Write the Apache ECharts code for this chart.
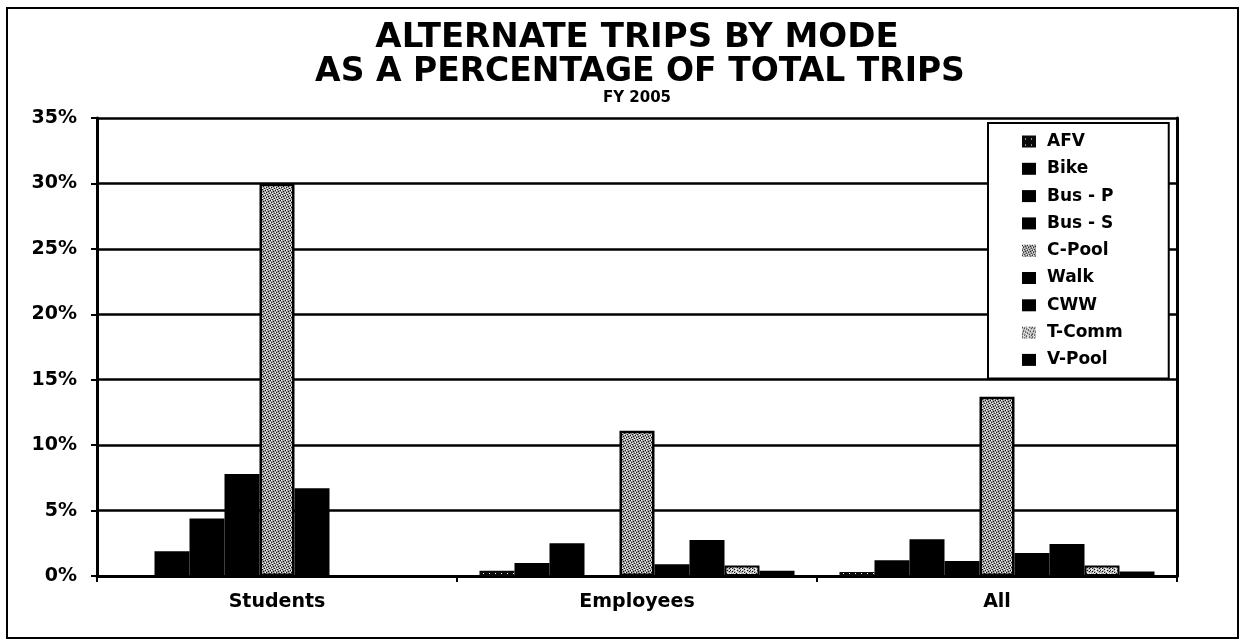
<!DOCTYPE html>
<html>
<head>
<meta charset="utf-8">
<script src="https://cdn.jsdelivr.net/npm/echarts@6/dist/echarts.min.js"></script>
<style>
html,body{margin:0;padding:0;background:#fff;}
#chart{width:1241px;height:641px;}
</style>
</head>
<body>
<div id="chart"></div>
<script>
// ---- data ----
var categories = ['Students', 'Employees', 'All'];
var seriesNames = ['AFV', 'Bike', 'Bus - P', 'Bus - S', 'C-Pool', 'Walk', 'CWW', 'T-Comm', 'V-Pool'];
var afv   = [0,    0.4,  0.3];
var bike  = [1.9,  1.0,  1.2];
var busP  = [4.4,  2.5,  2.8];
var busS  = [7.8,  0,    1.15];
var cPool = [30,   11.1, 13.7];
var walk  = [6.7,  0.9,  1.75];
var cww   = [0,    2.75, 2.45];
var tComm = [0,    0.8,  0.8];
var vPool = [0,    0.4,  0.35];
var yTicks = [0, 5, 10, 15, 20, 25, 30, 35];
var titleLines = ['ALTERNATE TRIPS BY MODE', 'AS A PERCENTAGE OF TOTAL TRIPS', 'FY 2005'];

// ---- texture patterns ----
function makePattern(size, base, darkFn, lightFn) {
  var c = document.createElement('canvas');
  c.width = size; c.height = size;
  var ctx = c.getContext('2d');
  ctx.fillStyle = base; ctx.fillRect(0, 0, size, size);
  for (var x = 0; x < size; x++) {
    for (var y = 0; y < size; y++) {
      if (darkFn(x, y)) { ctx.fillStyle = '#111'; ctx.fillRect(x, y, 1, 1); }
      else if (lightFn(x, y)) { ctx.fillStyle = '#fff'; ctx.fillRect(x, y, 1, 1); }
    }
  }
  return { image: c, repeat: 'repeat' };
}
var cPoolFill = makePattern(10, '#a0a0a0',
  function (x, y) { return (x + 2 * y) % 5 === 0; },
  function (x, y) { return (2 * x + y) % 5 === 2; });
var tCommFill = makePattern(10, '#b8b8b8',
  function (x, y) { return (3 * x + y) % 7 === 0; },
  function (x, y) { return (x + 3 * y) % 4 === 1; });
var afvFill = makePattern(6, '#0a0a0a',
  function (x, y) { return false; },
  function (x, y) { return (x === 3 && y === 3); });

var seriesData = [afv, bike, busP, busS, cPool, walk, cww, tComm, vPool];
var fills = [afvFill, '#000', '#000', '#000', cPoolFill, '#000', '#000', tCommFill, '#000'];
var borders = [0, 0, 0, 0, 2.5, 0, 0, 2, 0];

var FONT = "'DejaVu Sans', sans-serif";

var series = seriesNames.map(function (n, i) {
  return {
    name: n,
    type: 'bar',
    data: seriesData[i].map(function (v) {
      return v === 0 ? { value: v, itemStyle: { borderWidth: 0, opacity: 0 } } : v;
    }),
    barWidth: 35,
    barGap: '0%',
    itemStyle: { color: fills[i], borderColor: '#000', borderWidth: borders[i] },
    emphasis: { disabled: true },
    animation: false
  };
});

var chart = echarts.init(document.getElementById('chart'), null, { renderer: 'canvas' });
chart.setOption({
  backgroundColor: '#fff',
  animation: false,
  graphic: [
    { type: 'rect', shape: { x: 7, y: 8, width: 1231, height: 630 },
      style: { fill: null, stroke: '#000', lineWidth: 2 }, z: 0, silent: true },
    { type: 'text', x: 637, y: 38, style: { text: titleLines[0], font: "bold 34px " + FONT, fill: '#000', textAlign: 'center', textVerticalAlign: 'middle' } },
    { type: 'text', x: 640, y: 72, style: { text: titleLines[1], font: "bold 33px " + FONT, fill: '#000', textAlign: 'center', textVerticalAlign: 'middle' } },
    { type: 'text', x: 637, y: 98, style: { text: titleLines[2], font: "bold 15px " + FONT, fill: '#000', textAlign: 'center', textVerticalAlign: 'middle' } }
  ],
  grid: { left: 97, right: 64, top: 118, bottom: 65, containLabel: false },
  legend: {
    data: seriesNames,
    orient: 'vertical',
    left: 988,
    top: 123,
    padding: [10, 46, 10, 34],
    itemWidth: 14,
    itemHeight: 12,
    itemGap: 10.3,
    backgroundColor: '#fff',
    borderColor: '#000',
    borderWidth: 2,
    selectedMode: false,
    icon: 'rect',
    itemStyle: { borderWidth: 0, opacity: 1 },
    textStyle: { fontFamily: FONT, fontWeight: 'bold', fontSize: 17, color: '#000', padding: [0, 0, 0, 6] }
  },
  xAxis: {
    type: 'category',
    data: categories,
    axisLine: { show: true, lineStyle: { color: '#000', width: 3 } },
    axisTick: { show: true, alignWithLabel: false, length: 6, lineStyle: { color: '#000', width: 2 } },
    axisLabel: { fontFamily: FONT, fontWeight: 'bold', fontSize: 19, color: '#000', margin: 17 },
    splitLine: { show: false }
  },
  yAxis: [
    {
      type: 'value',
      min: yTicks[0],
      max: yTicks[yTicks.length - 1],
      interval: 5,
      axisLine: { show: true, lineStyle: { color: '#000', width: 3 } },
      axisTick: { show: true, length: 6, lineStyle: { color: '#000', width: 2 } },
      axisLabel: { fontFamily: FONT, fontWeight: 'bold', fontSize: 19, color: '#000', margin: 20,
        formatter: function (v) { return v + '%'; } },
      splitLine: { show: true, lineStyle: { color: '#000', width: 2.5 } }
    },
    {
      type: 'value',
      position: 'right',
      min: 0, max: 35, interval: 5,
      axisLine: { show: true, lineStyle: { color: '#000', width: 3 } },
      axisTick: { show: false },
      axisLabel: { show: false },
      splitLine: { show: false }
    }
  ],
  series: series
});
</script>
</body>
</html>
